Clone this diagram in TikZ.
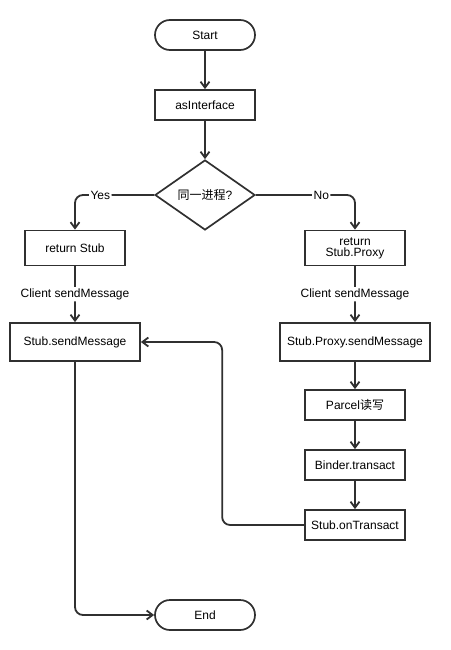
\documentclass[tikz,border=0pt]{standalone}
\usepackage{fontspec}
\setmainfont{Liberation Sans}
\newfontfamily\cjk{Noto Sans CJK SC}
\usetikzlibrary{shapes.geometric,arrows.meta}
\definecolor{linegray}{HTML}{303030}
\begin{document}
\begin{tikzpicture}[
        x=1pt, y=-1pt,
        block/.style={rectangle, draw=linegray, line width=1.7pt, minimum width=100pt, minimum height=30pt, align=center, inner sep=2pt, font=\fontsize{12}{13}\selectfont},
        term/.style={block, rounded corners=15pt},
        decision/.style={diamond, draw=linegray, line width=1.7pt, minimum width=100pt, minimum height=70pt, aspect=1.43, inner sep=0pt, font=\fontsize{12}{13}\selectfont},
        arrow/.style={-{Straight Barb[length=6pt, width=9pt, line width=1.8pt]}, line width=1.8pt, draw=linegray, rounded corners=8pt},
        lbl/.style={fill=white, inner sep=1.5pt, font=\fontsize{12}{13}\selectfont}
    ]
        \useasboundingbox (0,0) rectangle (450,650);

        % Top
        \node[term] (start) at (205,35) {Start};
        \node[block] (asif) at (205,105) {asInterface};
        \node[decision] (same) at (205,195) {{\cjk 同一进程}?};

        % Yes branch
        \node[block, minimum height=35pt] (retstub) at (75,248) {return Stub};
        \node[block, minimum width=130pt, minimum height=38pt] (stubsend) at (75,342) {Stub.sendMessage};

        % No branch
        \node[block, minimum height=35pt] (retproxy) at (355,248) {return\\[-2pt]Stub.Proxy};
        \node[block, minimum width=150pt, minimum height=38pt] (proxysend) at (355,342) {Stub.Proxy.sendMessage};
        \node[block] (parcel) at (355,405) {Parcel{\cjk 读写}};
        \node[block] (binder) at (355,465) {Binder.transact};
        \node[block] (ontrans) at (355,525) {Stub.onTransact};

        % End
        \node[term] (end) at (205,615) {End};

        \draw[arrow] (start) -- (asif);
        \draw[arrow] (asif) -- (same);
        \draw[arrow] (same.west) -| node[lbl, pos=0.34] {Yes} (retstub);
        \draw[arrow] (same.east) -| node[lbl, pos=0.33] {No} (retproxy);
        \draw[arrow] (retstub) -- node[lbl] {Client sendMessage} (stubsend);
        \draw[arrow] (retproxy) -- node[lbl] {Client sendMessage} (proxysend);
        \draw[arrow] (proxysend) -- (parcel);
        \draw[arrow] (parcel) -- (binder);
        \draw[arrow] (binder) -- (ontrans);
        \draw[arrow] (ontrans.west) -- ++(-82,0) |- (stubsend.east);
        \draw[arrow] (stubsend) |- (end);
    \end{tikzpicture}
\end{document}
